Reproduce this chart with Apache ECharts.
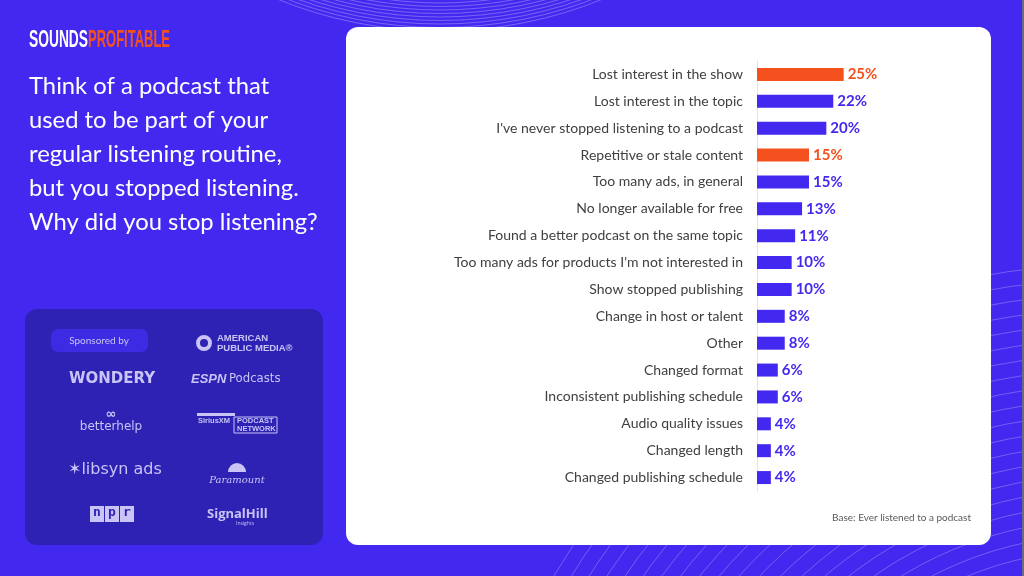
<!DOCTYPE html>
<html><head><meta charset="utf-8">
<script src="https://cdn.jsdelivr.net/npm/echarts@6/dist/echarts.min.js"></script>
<style>html,body{margin:0;padding:0;background:#4329F0;}#c{width:1024px;height:576px;}</style>
</head><body><div id="c"></div>
<script>
const categories = [
  "Lost interest in the show",
  "Lost interest in the topic",
  "I've never stopped listening to a podcast",
  "Repetitive or stale content",
  "Too many ads, in general",
  "No longer available for free",
  "Found a better podcast on the same topic",
  "Too many ads for products I'm not interested in",
  "Show stopped publishing",
  "Change in host or talent",
  "Other",
  "Changed format",
  "Inconsistent publishing schedule",
  "Audio quality issues",
  "Changed length",
  "Changed publishing schedule"
];
const values = [25, 22, 20, 15, 15, 13, 11, 10, 10, 8, 8, 6, 6, 4, 4, 4];
const highlighted = ["Lost interest in the show", "Repetitive or stale content"];
const titleLines = [
  "Think of a podcast that",
  "used to be part of your",
  "regular listening routine,",
  "but you stopped listening.",
  "Why did you stop listening?"
];
const baseNote = "Base: Ever listened to a podcast";

const BLUE = '#4329F0', ORANGE = '#F4511E';
const FONT = 'Lato, "Open Sans", sans-serif';
const LOGO = '#C9C3F6';

function fitScale(text, font, target) {
  const c = document.createElement('canvas').getContext('2d');
  c.font = font;
  return target / c.measureText(text).width;
}

const chart = echarts.init(document.getElementById('c'), null, {renderer: 'canvas'});

const g = [];
// decorative arcs top
for (let i = 0; i < 9; i++) {
  g.push({type: 'circle', silent: true, z: 0, shape: {cx: 440, cy: -400, r: 403 + i * 3.5},
    style: {fill: 'none', stroke: 'rgba(255,255,255,0.28)', lineWidth: 1}});
}
// decorative arcs bottom right
for (let i = 0; i < 20; i++) {
  g.push({type: 'circle', silent: true, z: 0, shape: {cx: 1100, cy: 900, r: 350 + i * 15},
    style: {fill: 'none', stroke: 'rgba(255,255,255,0.25)', lineWidth: 1}});
}
g.push({type: 'rect', z: 1, shape: {x: 0, y: 250, width: 340, height: 326}, style: {fill: BLUE}});
// right edge border
g.push({type: 'rect', z: 5, shape: {x: 1022, y: 0, width: 2, height: 576}, style: {fill: '#6b6b80'}});
// white panel
g.push({type: 'rect', z: 1, shape: {x: 346, y: 27, width: 645, height: 518, r: 12}, style: {fill: '#ffffff'}});
// logo
const LF = 'bold 24px "Liberation Sans", sans-serif';
g.push({type: 'text', z: 3, x: 29, y: 40, scaleX: fitScale('SOUNDS', LF, 59),
  style: {text: 'SOUNDS', fill: '#ffffff', font: LF, verticalAlign: 'middle'}});
g.push({type: 'text', z: 3, x: 88, y: 40, scaleX: fitScale('PROFITABLE', LF, 82),
  style: {text: 'PROFITABLE', fill: ORANGE, font: LF, verticalAlign: 'middle'}});
// title
titleLines.forEach((t, i) => {
  g.push({type: 'text', z: 3, x: 29, y: 86 + i * 34.2, style: {text: t, fill: '#ffffff', font: '23.8px ' + FONT, verticalAlign: 'middle'}});
});
// sponsor box
g.push({type: 'rect', z: 2, shape: {x: 25, y: 309, width: 298, height: 236, r: 12}, style: {fill: '#2D22B4'}});
g.push({type: 'rect', z: 3, shape: {x: 51, y: 329, width: 97, height: 23, r: 7}, style: {fill: '#3C2BE2'}});
g.push({type: 'text', z: 4, x: 99, y: 341, style: {text: 'Sponsored by', fill: LOGO, font: '10px ' + FONT, align: 'center', verticalAlign: 'middle'}});
// American Public Media
g.push({type: 'circle', z: 4, shape: {cx: 204, cy: 343, r: 6}, style: {fill: 'none', stroke: LOGO, lineWidth: 4}});
g.push({type: 'text', z: 4, x: 217, y: 338, style: {text: 'AMERICAN', fill: LOGO, font: 'bold 9.5px "Liberation Sans", sans-serif', verticalAlign: 'middle'}});
g.push({type: 'text', z: 4, x: 217, y: 348, style: {text: 'PUBLIC MEDIA\u00AE', fill: LOGO, font: 'bold 9.5px "Liberation Sans", sans-serif', verticalAlign: 'middle'}});
// Wondery
g.push({type: 'text', z: 4, x: 112, y: 379, style: {text: 'WONDERY', fill: LOGO, font: '600 15px "DejaVu Sans", sans-serif', align: 'center', verticalAlign: 'middle'}});
// ESPN Podcasts
g.push({type: 'text', z: 4, x: 191, y: 379, style: {text: 'ESPN', fill: LOGO, font: 'italic bold 13px "Liberation Sans", sans-serif', verticalAlign: 'middle'}});
g.push({type: 'text', z: 4, x: 229, y: 379, style: {text: 'Podcasts', fill: LOGO, font: '13px "DejaVu Sans Condensed", sans-serif', verticalAlign: 'middle'}});
// betterhelp
g.push({type: 'text', z: 4, x: 111, y: 415, style: {text: '\u221E', fill: LOGO, font: 'bold 13px "DejaVu Sans", sans-serif', align: 'center', verticalAlign: 'middle'}});
g.push({type: 'text', z: 4, x: 111, y: 427, style: {text: 'betterhelp', fill: LOGO, font: '12px "DejaVu Sans", sans-serif', align: 'center', verticalAlign: 'middle'}});
// SiriusXM
g.push({type: 'rect', z: 4, shape: {x: 197, y: 413, width: 38, height: 3}, style: {fill: LOGO}});
g.push({type: 'text', z: 4, x: 198, y: 421, style: {text: 'SiriusXM', fill: LOGO, font: 'bold 7.5px "Liberation Sans", sans-serif', verticalAlign: 'middle'}});
g.push({type: 'rect', z: 4, shape: {x: 234, y: 417, width: 43, height: 16}, style: {fill: 'none', stroke: LOGO, lineWidth: 1}});
g.push({type: 'text', z: 4, x: 237, y: 421, style: {text: 'PODCAST', fill: LOGO, font: 'bold 7.5px "Liberation Sans", sans-serif', verticalAlign: 'middle'}});
g.push({type: 'text', z: 4, x: 237, y: 429, style: {text: 'NETWORK', fill: LOGO, font: 'bold 7.5px "Liberation Sans", sans-serif', verticalAlign: 'middle'}});
// libsyn ads
g.push({type: 'text', z: 4, x: 68, y: 470, style: {text: '\u2736libsyn ads', fill: LOGO, font: '16px "DejaVu Sans", sans-serif', verticalAlign: 'middle'}});
// Paramount
g.push({type: 'sector', z: 4, shape: {cx: 237, cy: 472, r: 9, r0: 0, startAngle: Math.PI, endAngle: 2 * Math.PI}, style: {fill: LOGO}});
g.push({type: 'text', z: 4, x: 237, y: 480, style: {text: 'Paramount', fill: LOGO, font: 'italic 10px "DejaVu Serif", serif', align: 'center', verticalAlign: 'middle'}});
// npr
['n', 'p', 'r'].forEach((ch, i) => {
  g.push({type: 'rect', z: 4, shape: {x: 90 + i * 15, y: 506, width: 14, height: 16}, style: {fill: LOGO}});
  g.push({type: 'text', z: 5, x: 97 + i * 15, y: 513, style: {text: ch, fill: '#2D22B4', font: 'bold 13px "DejaVu Sans Mono", monospace', align: 'center', verticalAlign: 'middle'}});
});
// SignalHill
g.push({type: 'text', z: 4, x: 207, y: 514, style: {text: 'SignalHill', fill: LOGO, font: 'bold 13px "Open Sans", sans-serif', verticalAlign: 'middle'}});
g.push({type: 'text', z: 4, x: 236, y: 524, style: {text: 'Insights', fill: LOGO, font: '5px "Open Sans", sans-serif', verticalAlign: 'middle'}});
// base note
g.push({type: 'text', z: 3, x: 971, y: 518, style: {text: baseNote, fill: '#595959', font: '10px ' + FONT, align: 'right', verticalAlign: 'middle'}});

chart.setOption({
  backgroundColor: BLUE,
  animation: false,
  graphic: g,
  grid: {left: 757, top: 61, width: 104, height: 430, containLabel: false},
  xAxis: {type: 'value', min: 0, max: 30, show: false},
  yAxis: {
    type: 'category', data: categories, inverse: true, z: 20,
    axisLine: {show: true, lineStyle: {color: '#E3E3E3', width: 1}},
    axisTick: {show: false},
    axisLabel: {color: '#404040', fontSize: 14, fontFamily: FONT, margin: 14}
  },
  series: [{
    type: 'bar', z: 30,
    barWidth: 13,
    data: values.map((v, i) => {
      const c = highlighted.includes(categories[i]) ? ORANGE : BLUE;
      return {value: v, itemStyle: {color: c}, label: {color: c}};
    }),
    label: {show: true, position: 'right', distance: 4, formatter: '{c}%', fontSize: 15, fontWeight: 'bold', fontFamily: FONT}
  }]
});
</script></body></html>
